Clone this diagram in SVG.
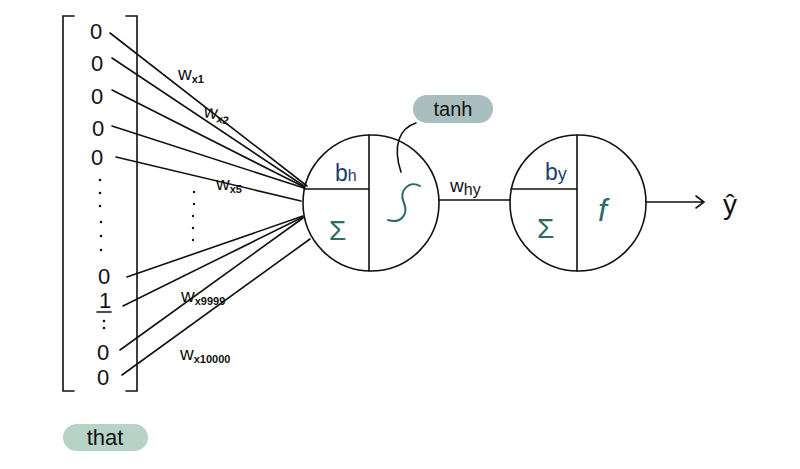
<svg xmlns="http://www.w3.org/2000/svg" width="800" height="469" viewBox="0 0 800 469">
<style>
.ln{stroke:#111;stroke-width:1.6;fill:none;stroke-linecap:round}
.t{font-family:"Liberation Sans",sans-serif;fill:#111}
.dig{font-family:"Liberation Sans",sans-serif;font-size:22px;fill:#111;text-anchor:middle}
.lbl{font-family:"Liberation Sans",sans-serif;font-size:19px;fill:#111}
.sub{font-size:11px;font-weight:bold}
.navy{fill:#1d3d6e}
.teal{fill:#2d6a6a}
</style>
<rect width="800" height="469" fill="#fff"/>
<g id="vector">
<path class="ln" d="M74,16 H63 V391 H74"/>
<path class="ln" d="M126,16 H137 V391 H126"/>
<text class="dig" x="96" y="39">0</text>
<text class="dig" x="97" y="71">0</text>
<text class="dig" x="97" y="104">0</text>
<text class="dig" x="98" y="136">0</text>
<text class="dig" x="97" y="165">0</text>
<g fill="#111"><circle cx="100" cy="180" r="1.3"/><circle cx="100" cy="193" r="1.3"/><circle cx="100" cy="206" r="1.3"/><circle cx="101" cy="222" r="1.3"/><circle cx="101" cy="236" r="1.3"/><circle cx="101" cy="250" r="1.3"/></g>
<text class="dig" x="104" y="284">0</text>
<text class="dig" x="105" y="308">1</text>
<path class="ln" d="M97,312 H111"/>
<g fill="#111"><circle cx="104" cy="321" r="1.3"/><circle cx="104" cy="328" r="1.3"/></g>
<text class="dig" x="103" y="360">0</text>
<text class="dig" x="103" y="385">0</text>
</g>
<g id="connectors">
<path class="ln" d="M110,33 L307,186"/>
<path class="ln" d="M112,58 L304,186"/>
<path class="ln" d="M112,90 L304,187"/>
<path class="ln" d="M112,126 L304,188"/>
<path class="ln" d="M116,157 L301,201"/>
<path class="ln" d="M127,277 L303,216"/>
<path class="ln" d="M123,306 L303,217"/>
<path class="ln" d="M120,350 L303,218"/>
<path class="ln" d="M122,375 L310,239"/>
<path class="ln" d="M439,200 H510"/>
<path class="ln" d="M646,202 H703 M696,196 L704,202 L696,208"/>
<path class="ln" d="M416,123 C400,128 392,145 401,172"/>
<g fill="#111"><circle cx="194" cy="192" r="1.2"/><circle cx="194" cy="204" r="1.2"/><circle cx="193" cy="216" r="1.2"/><circle cx="193" cy="228" r="1.2"/><circle cx="193" cy="240" r="1.2"/></g>
<text class="lbl" x="178" y="80">w<tspan class="sub" dy="3">x1</tspan></text>
<text class="lbl" x="203" y="117" transform="rotate(10 203 117)">w<tspan class="sub" dy="3">x2</tspan></text>
<text class="lbl" x="216" y="190">w<tspan class="sub" dy="3">x5</tspan></text>
<text class="lbl" x="181" y="302">w<tspan class="sub" dy="3">x9999</tspan></text>
<text class="lbl" x="180" y="360">w<tspan class="sub" dy="3">x10000</tspan></text>
<text class="lbl" x="450" y="192" font-size="21">w<tspan dy="3" font-size="16">hy</tspan></text>
</g>
<g id="hidden">
<circle class="ln" cx="371" cy="203" r="68"/>
<path class="ln" d="M369,135 V271 M304,189 H369"/>
<text class="t navy" x="335" y="181" font-size="23">b<tspan font-size="16">h</tspan></text>
<text class="t teal" x="329" y="240" font-size="28">Σ</text>
<path d="M420,186 C410,180 398,190 404,203 C409,215 400,224 388,220" stroke="#2d6a6a" stroke-width="2" fill="none" stroke-linecap="round"/>
</g>
<g id="tanh">
<rect x="413" y="95" width="80" height="28" rx="14" fill="#a9bfbf"/>
<text class="t" x="453" y="116" font-size="20" text-anchor="middle">tanh</text>
</g>
<g id="output">
<circle class="ln" cx="578" cy="203" r="68"/>
<path class="ln" d="M577,135 V271 M511,189 H577"/>
<text class="t navy" x="545" y="180" font-size="23">b<tspan font-size="18">y</tspan></text>
<text class="t teal" x="537" y="238" font-size="28">Σ</text>
<text class="t teal" x="598" y="221" font-size="32" font-style="italic">f</text>
</g>
<g id="yhat">
<text class="t" x="730" y="214" font-size="28" text-anchor="middle">ŷ</text>
</g>
<g id="that">
<rect x="63" y="424" width="85" height="27" rx="13.5" fill="#b7d3c7"/>
<text class="t" x="105" y="445" font-size="22" text-anchor="middle">that</text>
</g>
</svg>
